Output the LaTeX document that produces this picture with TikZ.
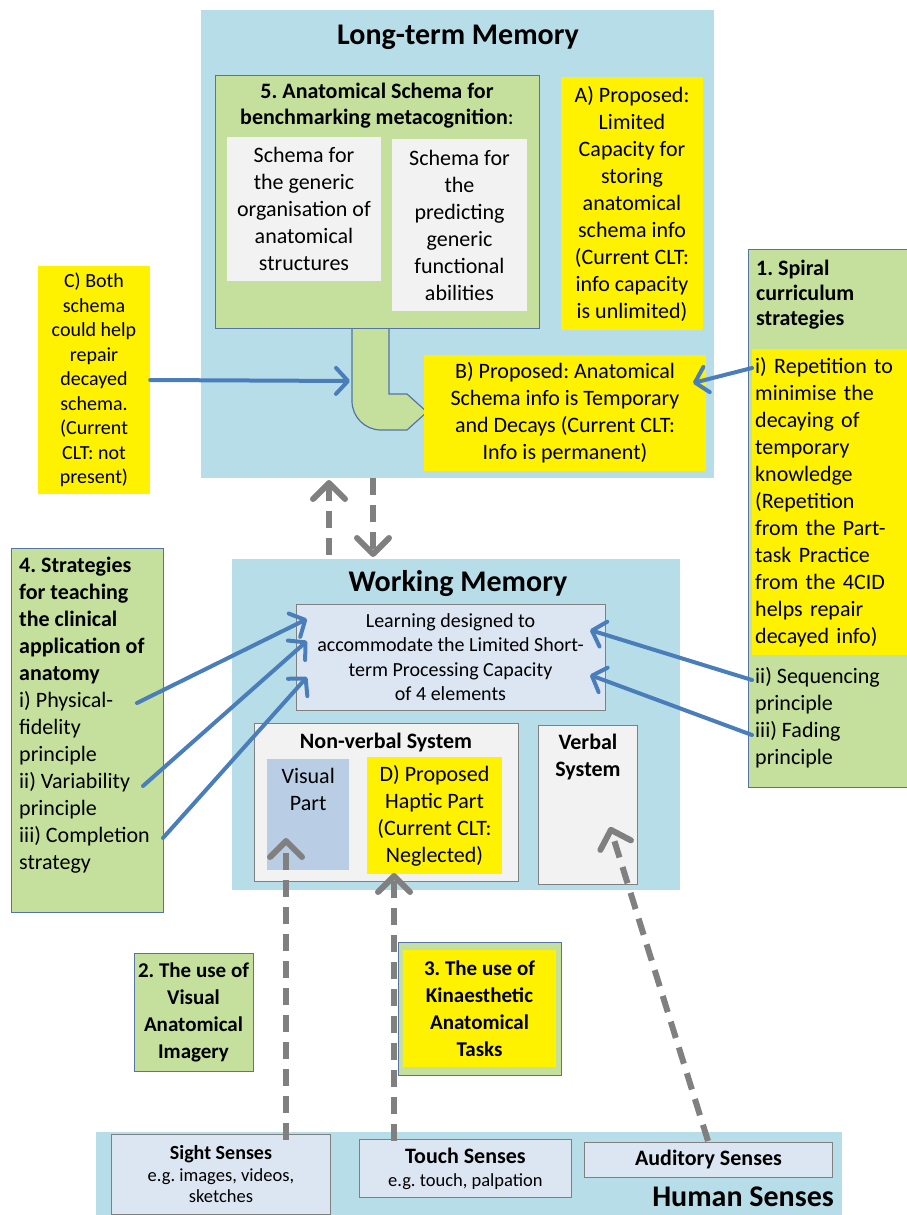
\documentclass[tikz,border=0pt]{standalone}
\usepackage{fontspec}
\setmainfont{Carlito}
\frenchspacing
\usetikzlibrary{arrows.meta,positioning}
\definecolor{ltmblue}{RGB}{183,221,232}
\definecolor{schgreen}{RGB}{196,224,156}
\definecolor{edgeblue}{RGB}{84,116,166}
\definecolor{paleblue}{RGB}{220,230,242}
\definecolor{visblue}{RGB}{185,205,229}
\definecolor{boxgrey}{RGB}{242,242,242}
\definecolor{arrblue}{RGB}{74,126,187}
\definecolor{arrgrey}{RGB}{128,128,128}
\tikzset{
  memband/.style={fill=ltmblue, inner sep=0pt},
  grnbox/.style ={draw=edgeblue, fill=schgreen, line width=0.9pt, inner sep=0pt},
  ylwbox/.style ={fill=yellow, inner sep=0pt, align=center},
  schbox/.style ={fill=boxgrey, inner sep=0pt, align=center},
  sysbox/.style ={draw=black!50, fill=boxgrey, line width=0.9pt, inner sep=0pt},
  palebox/.style={draw=black!50, fill=paleblue, line width=0.9pt, inner sep=0pt, align=center},
  bigttl/.style ={font=\fontsize{30}{34}\selectfont\bfseries, inner sep=0pt},
  txt/.style    ={font=\fontsize{22}{27}\selectfont},
  smtxt/.style  ={font=\fontsize{20}{24.4}\selectfont},
  bluarr/.style ={-{Straight Barb[length=12pt,width=26pt,round]}, line width=4pt,
                  arrblue, line cap=round},
  gryarr/.style ={-{Straight Barb[length=16pt,width=32pt,round]}, line width=6pt,
                  arrgrey, dash pattern=on 17pt off 10pt},
}
\begin{document}
\begin{tikzpicture}[x=1pt,y=-1pt]
  \useasboundingbox (0,0) rectangle (906,1215);
  % memory stores
  \node[memband, minimum width=513, minimum height=468, anchor=north west] (ltm) at (201,10) {};
  \node[memband, minimum width=448, minimum height=331, anchor=north west] (wm) at (232,559) {};
  \node[memband, minimum width=746, minimum height=86, anchor=north west] (hs) at (96,1132) {};
  \node[bigttl] (ltmttl) at (458,37) {Long-term Memory};
  \node[bigttl] (wmttl) at (458,584) {Working Memory};
  % long-term memory contents
  \filldraw[draw=edgeblue, fill=schgreen, line width=1.2pt]
    (389,328) -- (352,328) -- (352,401) .. controls (352,417) and (365,430) .. (381,430)
    -- (407,430) -- (427,412) -- (407,394) -- (389,394) -- cycle;
  \coordinate (lcorner) at (350,381);
  \node[grnbox, minimum width=324, minimum height=253, anchor=north west] (schema) at (215,75) {};
  \node[txt, font=\fontsize{22}{26}\selectfont\bfseries, align=center] (schttl) at (377,106)
    {5. Anatomical Schema for\\benchmarking metacognition{\mdseries :}};
  \node[schbox, txt, minimum width=154, minimum height=144] (organ) at (304,209)
    {Schema for\\the generic\\organisation of\\anatomical\\structures};
  \node[schbox, txt, minimum width=135, minimum height=172] (funct) at (459.5,225)
    {Schema for\\the\\predicting\\generic\\functional\\abilities};
  \node[ylwbox, txt, minimum width=142, minimum height=253] (propA) at (632,203.5)
    {A) Proposed:\\Limited\\Capacity for\\storing\\anatomical\\schema info\\(Current CLT:\\info capacity\\is unlimited)};
  \node[ylwbox, txt, minimum width=282, minimum height=116] (propB) at (565,413)
    {B) Proposed: Anatomical\\Schema info is Temporary\\and Decays (Current CLT:\\Info is permanent)};
  \node[ylwbox, font=\fontsize{20}{24.5}\selectfont, minimum width=112, minimum height=228] (propC) at (94,380)
    {C) Both\\schema\\could help\\repair\\decayed\\schema.\\(Current\\CLT: not\\present)};
  % spiral curriculum
  \node[grnbox, minimum width=160, minimum height=538, anchor=north west] (spiral) at (748,249) {};
  \node[txt, font=\fontsize{22}{25}\selectfont\bfseries, align=left, anchor=north west, inner sep=0pt] (spttl) at (756,260)
    {1. Spiral\\curriculum\\strategies};
  \node[ylwbox, txt, align=left, text width=150, inner xsep=3pt, minimum height=306, anchor=north west] (repet) at (752,349)
    {i) Repetition to\\minimise the\\decaying of\\temporary\\knowledge\\(Repetition\\from the Part-\\task Practice\\from the 4CID\\helps repair\\decayed info)};
  \node[txt, align=left, anchor=north west, inner sep=0pt] (seqf) at (755,667)
    {ii) Sequencing\\principle\\iii) Fading\\principle};
  % working memory contents
  \node[palebox, smtxt, minimum width=309, minimum height=106] (learn) at (450.5,657)
    {Learning designed to\\accommodate the Limited Short-\\term Processing Capacity\\of 4 elements};
  \node[sysbox, minimum width=264, minimum height=158, anchor=north west] (nonverb) at (254,723) {};
  \node[txt, font=\fontsize{22}{27}\selectfont\bfseries, inner sep=0pt] (nvttl) at (386,743) {Non-verbal System};
  \node[fill=visblue, minimum width=82, minimum height=111, anchor=north west, inner sep=0pt] (visual) at (267,759) {};
  \node[txt, align=center, below=9pt of visual.north, inner sep=0pt] (visttl) {Visual\\Part};
  \node[ylwbox, txt, minimum width=135, minimum height=117] (haptic) at (434.5,815.5)
    {D) Proposed\\Haptic Part\\(Current CLT:\\Neglected)};
  \node[sysbox, minimum width=99, minimum height=159, anchor=north west] (verbal) at (538,725) {};
  \node[txt, font=\fontsize{22}{27}\selectfont\bfseries, align=center, below=9pt of verbal.north, inner sep=0pt] (vbttl)
    {Verbal\\System};
  % clinical strategies
  \node[grnbox, minimum width=152, minimum height=364, anchor=north west] (clinic) at (11,548) {};
  \node[txt, align=left, anchor=north west, inner sep=0pt] (clintxt) at (19,557)
    {\textbf{4. Strategies}\\\textbf{for teaching}\\\textbf{the clinical}\\\textbf{application of}\\\textbf{anatomy}\\
     i) Physical-\\fidelity\\principle\\ii) Variability\\principle\\iii) Completion\\strategy};
  % teaching of senses
  \node[grnbox, txt, font=\fontsize{21}{27}\selectfont\bfseries, align=center, minimum width=119, minimum height=118] (visimg) at (193.5,1012)
    {2. The use of\\Visual\\Anatomical\\Imagery};
  \node[grnbox, minimum width=163, minimum height=133] (kinout) at (479.5,1008.5) {};
  \node[ylwbox, font=\fontsize{21}{27}\selectfont\bfseries, minimum width=153, minimum height=117] (kintask) at (479.5,1008.5)
    {3. The use of\\Kinaesthetic\\Anatomical\\Tasks};
  % human senses
  \node[palebox, minimum width=219, minimum height=80, anchor=north west,
        font=\fontsize{18.5}{21.5}\selectfont] (sight) at (111,1134)
    {{\fontsize{20}{22}\selectfont\bfseries Sight Senses}\\e.g. images, videos,\\sketches};
  \node[palebox, minimum width=212, minimum height=58, anchor=north west,
        font=\fontsize{18.5}{23}\selectfont] (touch) at (359,1139)
    {{\fontsize{22}{24}\selectfont\bfseries Touch Senses}\\e.g. touch, palpation};
  \node[palebox, minimum width=248, minimum height=35, anchor=north west,
        font=\fontsize{22}{24}\selectfont\bfseries] (audit) at (584,1142) {Auditory Senses};
  \node[bigttl, anchor=east] (hsttl) at (834,1197) {Human Senses};
  % connector end points
  \coordinate (repTail) at (752,368);   \coordinate (decayTip) at (693,383);
  \coordinate (physTail) at (137,703);  \coordinate (physTip) at (307,619);
  \coordinate (varTail) at (143,786);   \coordinate (varTip) at (307,641);
  \coordinate (compTail) at (163,838);  \coordinate (compTip) at (307,677);
  \coordinate (seqTail) at (752,680);   \coordinate (seqTip) at (590,630);
  \coordinate (fadeTail) at (752,735);  \coordinate (fadeTip) at (590,675);
  \coordinate (upBot) at (329,555);     \coordinate (upTop) at (329,480);
  \coordinate (dnTop) at (373,478);     \coordinate (dnBot) at (373,557);
  \coordinate (sightTop) at (286,1140); \coordinate (visTip) at (286,838);
  \coordinate (touchTop) at (394,1141); \coordinate (hapTip) at (394,873);
  \coordinate (audTop) at (708,1141);   \coordinate (vbTip) at (610,827);
  % connectors
  \draw[bluarr] (propC.east) -- (lcorner);
  \draw[bluarr] (repTail) -- (decayTip);
  \draw[bluarr] (physTail) -- (physTip);
  \draw[bluarr] (varTail) -- (varTip);
  \draw[bluarr] (compTail) -- (compTip);
  \draw[bluarr] (seqTail) -- (seqTip);
  \draw[bluarr] (fadeTail) -- (fadeTip);
  \draw[gryarr] (upBot) -- (upTop);
  \draw[gryarr] (dnTop) -- (dnBot);
  \draw[gryarr] (sightTop) -- (visTip);
  \draw[gryarr] (touchTop) -- (hapTip);
  \draw[gryarr] (audTop) -- (vbTip);
\end{tikzpicture}
\end{document}
